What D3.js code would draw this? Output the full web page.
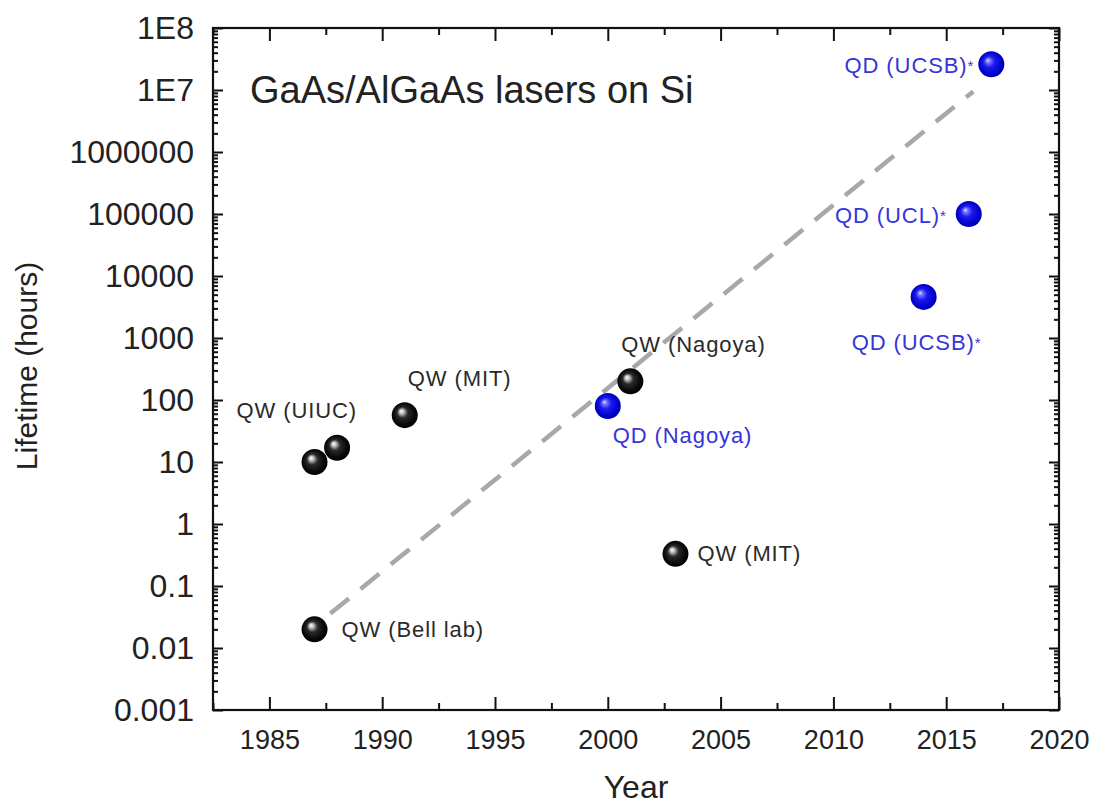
<!DOCTYPE html>
<html>
<head>
<meta charset="utf-8">
<script src="https://cdn.jsdelivr.net/npm/d3@7"></script>
<style>
  html, body { margin: 0; padding: 0; background: #fff; }
  svg { display: block; font-family: "Liberation Sans", Arial, Helvetica, sans-serif; }
</style>
</head>
<body>
<svg id="chart" width="1094" height="804"></svg>
<script>
// ---- data ----
const years     = [1987, 1987, 1988, 1991, 2001, 2000, 2003, 2017, 2016, 2014];
const lifetimes = [0.02, 10, 17, 57, 200, 80, 0.33, 2.6e7, 1e5, 4600];
const kinds     = ["QW", "QW", "QW", "QW", "QW", "QD", "QW", "QD", "QD", "QD"];
const labels    = ["QW (Bell lab)", "QW (UIUC)", "", "QW (MIT)", "QW (Nagoya)", "QD (Nagoya)",
                   "QW (MIT)", "QD (UCSB)*", "QD (UCL)*", "QD (UCSB)*"];

// trend line end points
const trendYears  = [1987.7, 2016.2];
const trendValues = [0.036, 9.5e6];

const xTickValues = [1985, 1990, 1995, 2000, 2005, 2010, 2015, 2020];
const yTickValues = [0.001, 0.01, 0.1, 1, 10, 100, 1000, 10000, 100000, 1000000, 1e7, 1e8];
const yTickLabels = ["0.001", "0.01", "0.1", "1", "10", "100", "1000", "10000",
                     "100000", "1000000", "1E7", "1E8"];

// ---- label placement (pixel offsets from each marker) ----
const labelLayout = [
  { dx: 27,  dy: 8,   anchor: "start" },
  { dx: -78, dy: -44, anchor: "start" },
  null,
  { dx: 3,   dy: -29, anchor: "start" },
  { dx: -9,  dy: -29, anchor: "start" },
  { dx: 5,   dy: 37,  anchor: "start" },
  { dx: 22,  dy: 7,   anchor: "start" },
  { dx: -17, dy: 9,   anchor: "end" },
  { dx: -22, dy: 9,   anchor: "end" },
  { dx: -7,  dy: 53,  anchor: "middle" }
];

const svg = d3.select("#chart");
const plot = { left: 213, right: 1059, top: 28, bottom: 710 };

const x = d3.scaleLinear().domain([1982.5, 2020]).range([plot.left, plot.right]);
const y = d3.scaleLog().domain([0.001, 1e8]).range([plot.bottom, plot.top]);

// sphere gradients
const defs = svg.append("defs");
function sphere(id, stops) {
  const g = defs.append("radialGradient").attr("id", id)
    .attr("cx", "50%").attr("cy", "50%").attr("r", "55%")
    .attr("fx", "36%").attr("fy", "34%");
  stops.forEach(s => g.append("stop").attr("offset", s[0]).attr("stop-color", s[1]));
}
sphere("ballQW", [["0%", "#ffffff"], ["14%", "#c8c8c8"], ["38%", "#2a2a2a"], ["75%", "#080808"], ["100%", "#000000"]]);
sphere("ballQD", [["0%", "#e8e8ff"], ["14%", "#7a7aff"], ["40%", "#1a1af0"], ["80%", "#0000c8"], ["100%", "#00009a"]]);

// minor ticks
const xMinor = d3.range(1982.5, 2020.01, 2.5).filter(v => !xTickValues.includes(v));
const yMinor = [];
for (let e = -3; e < 8; e++) for (let k = 2; k <= 9; k++) yMinor.push(k * Math.pow(10, e));

const axisColor = "#111";
function styleAxis(g) {
  g.select(".domain").remove();
  g.selectAll(".tick line").attr("stroke", axisColor).attr("stroke-width", 2);
}

// bottom axis
svg.append("g").attr("transform", `translate(0,${plot.bottom})`)
  .call(d3.axisBottom(x).tickValues(xTickValues).tickFormat(d3.format("d")).tickSize(-13).tickPadding(20))
  .call(styleAxis)
  .call(g => g.selectAll("text").attr("font-size", 27).attr("fill", "#222").attr("font-family", "Liberation Sans, Arial, sans-serif"));
svg.append("g").attr("transform", `translate(0,${plot.bottom})`)
  .call(d3.axisBottom(x).tickValues(xMinor).tickFormat("").tickSize(-7))
  .call(styleAxis);
// top axis
svg.append("g").attr("transform", `translate(0,${plot.top})`)
  .call(d3.axisTop(x).tickValues(xTickValues).tickFormat("").tickSize(-13))
  .call(styleAxis);
svg.append("g").attr("transform", `translate(0,${plot.top})`)
  .call(d3.axisTop(x).tickValues(xMinor).tickFormat("").tickSize(-7))
  .call(styleAxis);

// left axis
svg.append("g").attr("transform", `translate(${plot.left},0)`)
  .call(d3.axisLeft(y).tickValues(yTickValues).tickFormat((d, i) => yTickLabels[i]).tickSize(-10).tickPadding(19))
  .call(styleAxis)
  .call(g => g.selectAll("text").attr("font-size", 32).attr("fill", "#222").attr("font-family", "Liberation Sans, Arial, sans-serif"));
svg.append("g").attr("transform", `translate(${plot.left},0)`)
  .call(d3.axisLeft(y).tickValues(yMinor).tickFormat("").tickSize(-5))
  .call(styleAxis);
// right axis
svg.append("g").attr("transform", `translate(${plot.right},0)`)
  .call(d3.axisRight(y).tickValues(yTickValues).tickFormat("").tickSize(-10))
  .call(styleAxis);
svg.append("g").attr("transform", `translate(${plot.right},0)`)
  .call(d3.axisRight(y).tickValues(yMinor).tickFormat("").tickSize(-5))
  .call(styleAxis);

// frame
svg.append("rect")
  .attr("x", plot.left).attr("y", plot.top)
  .attr("width", plot.right - plot.left).attr("height", plot.bottom - plot.top)
  .attr("fill", "none").attr("stroke", axisColor).attr("stroke-width", 2.2);

// trend line
const trend = trendYears.map((t, i) => [t, trendValues[i]]);
svg.append("path")
  .datum(trend)
  .attr("d", d3.line().x(d => x(d[0])).y(d => y(d[1])))
  .attr("fill", "none").attr("stroke", "#a8a8a8").attr("stroke-width", 4.5)
  .attr("stroke-dasharray", "24,15");

// title
svg.append("text")
  .attr("x", 250).attr("y", 103)
  .attr("font-size", 38).attr("fill", "#222")
  .text("GaAs/AlGaAs lasers on Si");

// axis titles
svg.append("text")
  .attr("transform", "translate(37,366) rotate(-90)")
  .attr("text-anchor", "middle").attr("font-size", 30).attr("fill", "#222")
  .text("Lifetime (hours)");
svg.append("text")
  .attr("x", 636).attr("y", 798)
  .attr("text-anchor", "middle").attr("font-size", 32).attr("fill", "#222")
  .text("Year");

// markers
const pts = years.map((yr, i) => ({ year: yr, life: lifetimes[i], kind: kinds[i], label: labels[i], lay: labelLayout[i] }));
svg.append("g").selectAll("circle")
  .data(pts)
  .join("circle")
  .attr("cx", d => x(d.year)).attr("cy", d => y(d.life)).attr("r", 13)
  .attr("fill", d => d.kind === "QW" ? "url(#ballQW)" : "url(#ballQD)");

// point labels; the trailing asterisk is set smaller, as a raised mark
const lab = svg.append("g").selectAll("text")
  .data(pts.filter(d => d.label))
  .join("text")
  .attr("x", d => x(d.year) + d.lay.dx)
  .attr("y", d => y(d.life) + d.lay.dy)
  .attr("text-anchor", d => d.lay.anchor)
  .attr("font-size", 22)
  .attr("letter-spacing", 0.9)
  .attr("fill", d => d.kind === "QW" ? "#2a2a2a" : "#3535d8");
lab.append("tspan").text(d => d.label.replace(/\*$/, ""));
lab.filter(d => d.label.endsWith("*"))
  .append("tspan").attr("font-size", 15).attr("dy", -2).text("*");
</script>
</body>
</html>
